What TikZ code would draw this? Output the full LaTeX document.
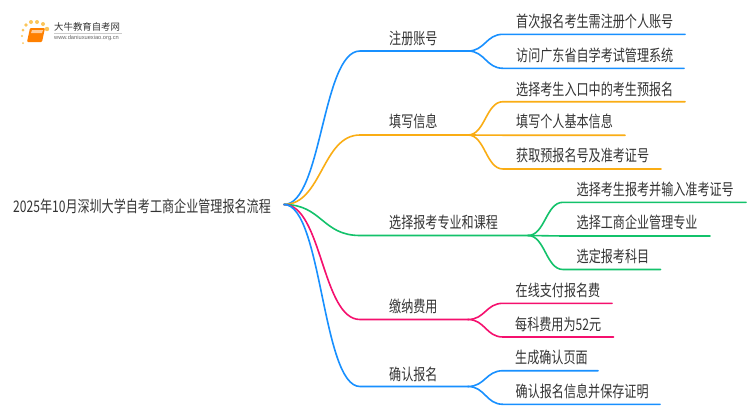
\documentclass[tikz,border=0pt]{standalone}
\usepackage{fontspec}
\usetikzlibrary{calc}
\setmainfont[FakeStretch=0.755]{Noto Sans CJK SC}
\newfontfamily\logofont{Noto Sans CJK SC}
\newfontfamily\latinsans{Liberation Sans}
\definecolor{cblue}{HTML}{1890FF}
\definecolor{corange}{HTML}{FAAD14}
\definecolor{cgreen}{HTML}{13C26B}
\definecolor{cpink}{HTML}{F5106E}
\definecolor{ctext}{HTML}{333333}
\tikzset{
 x=1pt,y=-1pt,
 lab/.style={inner sep=0pt,anchor=west,text=ctext,font=\fontsize{16}{17}\selectfont},
 link/.style={line width=1.6pt,line cap=round},
 }
% colour, branch start, line y, text x, text y, line end x, text
\newcommand{\leaf}[7]{%
  \coordinate (s) at (#2);
  \coordinate (t) at ($(s|-0,#3)+(35,0)$);
  \coordinate (u) at (#6,#3);
  \draw[link,#1] (s) .. controls ($(s)+(17,0)$) and ($(t)+(-17,0)$) .. (t) -- (u);
  \node[lab] at (#4,#5) {#7};
}
\begin{document}
\begin{tikzpicture}
\useasboundingbox (0,0) rectangle (750,410);
\fill[white] (0,0) rectangle (750,410);
% logo
\foreach \p/\r in {{23,43}/1,{22,36}/1.2,{23,30}/1.5,{26,25}/1.8,{31,22}/2,{37,22}/2,{43,24}/2,{47,29}/2.2}
  \fill[corange!70] (\p) circle (\r);
\fill[orange,rounded corners=1pt] (30,28) -- (45,28) -- (42,42) -- (27,42) -- cycle;
\fill[orange!40] (32,30) -- (43,30) -- (42,33) -- (31,33) -- cycle;
\node[inner sep=0pt,anchor=west,font=\logofont\fontsize{9.4}{10}\selectfont,text=ctext] (logotitle) at (54,26.7) {大牛教育自考网};
\draw[black!20,line width=.5pt] (54,33) -- (122,33);
\node[inner sep=0pt,anchor=west,font=\latinsans\fontsize{5.7}{6}\selectfont,text=black!60] (logourl) at (54,38.3) {www.daniuxuexiao.org.cn};
% root
\coordinate (R) at (284,204.5);
\node[lab] (root) at (13,206) {2025年10月深圳大学自考工商企业管理报名流程};
% level 1
\coordinate (a0) at (360,51); \coordinate (a1) at (468,51);
\coordinate (b0) at (360,135); \coordinate (b1) at (468,135);
\coordinate (c0) at (360,235.5); \coordinate (c1) at (528,235.5);
\coordinate (d0) at (360,319.5); \coordinate (d1) at (468,319.5);
\coordinate (e0) at (360,386.5); \coordinate (e1) at (468,386.5);
\node[lab] (na) at (389,38) {注册账号};
\node[lab] (nb) at (389,121.7) {填写信息};
\node[lab] (nc) at (389,222.7) {选择报考专业和课程};
\node[lab] (nd) at (389,306.7) {缴纳费用};
\node[lab] (ne) at (389,374.3) {确认报名};
\foreach \c/\n in {cblue/a,corange/b,cgreen/c,cpink/d,cblue/e}{
  \draw[link,\c] (R) .. controls (322,204.5) and (322,0|-\n0) .. (\n0) -- (\n1);
}
% leaves
\leaf{cblue}{a1}{34.3}{516}{21}{685}{首次报名考生需注册个人账号}
\leaf{cblue}{a1}{68.3}{516}{55}{684}{访问广东省自学考试管理系统}
\leaf{corange}{b1}{101.7}{516}{89}{685}{选择考生入口中的考生预报名}
\leaf{corange}{b1}{135.2}{516}{121.7}{625}{填写个人基本信息}
\leaf{corange}{b1}{169}{516}{155}{661}{获取预报名号及准考证号}
\leaf{cgreen}{c1}{202.3}{576.5}{189.3}{746}{选择考生报考并输入准考证号}
\leaf{cgreen}{c1}{236}{576.5}{222.3}{710}{选择工商企业管理专业}
\leaf{cgreen}{c1}{269.5}{576.5}{256.7}{660.5}{选定报考科目}
\leaf{cpink}{d1}{303.3}{515.5}{290}{612}{在线支付报名费}
\leaf{cpink}{d1}{337}{515}{324}{613.5}{每科费用为52元}
\leaf{cblue}{e1}{370.7}{515}{357.7}{598}{生成确认页面}
\leaf{cblue}{e1}{404.3}{515.5}{391}{660}{确认报名信息并保存证明}
\end{tikzpicture}
\end{document}
